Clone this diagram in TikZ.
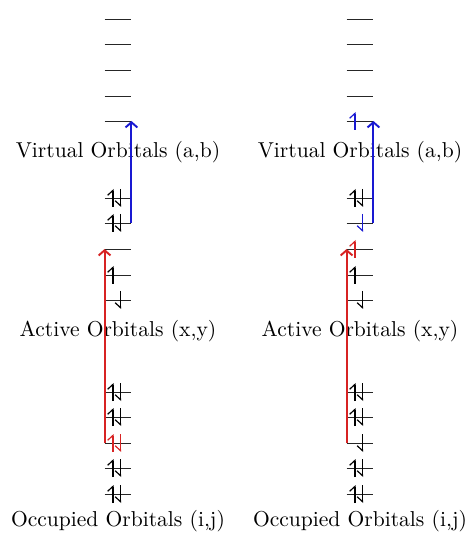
\documentclass[tikz,border=0pt]{standalone}
\usetikzlibrary{arrows.meta,calc}
\definecolor{exblue}{RGB}{25,25,210}
\definecolor{exred}{RGB}{215,35,35}
\newcommand\mklvl[3]{\node[lvl] (#1) at (#2,#3) {}; \draw[lvlline] (#1.west) -- (#1.east);}
\newcommand\elecup[2][black]{\draw[elec,#1,-{Straight Barb[left,length=2.3pt,width=5pt]}] ($(#2)+(-5,9)$) -- ($(#2)+(-5,-9)$);}
\newcommand\elecdn[2][black]{\draw[elec,#1,-{Straight Barb[right,length=2.3pt,width=5pt]}] ($(#2)+(2.5,-9)$) -- ($(#2)+(2.5,9)$);}
\newcommand\elecpair[2][black]{\elecup[#1]{#2}\elecdn[#1]{#2}}
\begin{document}
\begin{tikzpicture}[x={(0.464pt,0)},y={(0,-0.464pt)},
  lvl/.style={inner sep=0pt, minimum width=12.06pt, minimum height=0pt},
  lvlline/.style={line width=0.45pt, black!85},
  elec/.style={line width=0.55pt},
  exc/.style={line width=0.9pt, -{Straight Barb[length=2.4pt,width=5.5pt]}},
  lbl/.style={anchor=base, inner sep=0pt}]
\useasboundingbox (0,0) rectangle (467,535);
% ---------- left column ----------
\mklvl{Lv1}{118}{19}
\mklvl{Lv2}{118}{44}
\mklvl{Lv3}{118}{70}
\mklvl{Lv4}{118}{96}
\mklvl{Lv5}{118}{121}
\mklvl{Lv6}{118}{198}
\mklvl{Lv7}{118}{223}
\mklvl{La1}{118}{249}
\mklvl{La2}{118}{275}
\mklvl{La3}{118}{300}
\mklvl{Lo1}{118}{392}
\mklvl{Lo2}{118}{417}
\mklvl{Lo3}{118}{443}
\mklvl{Lo4}{118}{468}
\mklvl{Lo5}{118}{494}
\node[lbl] (LtV) at (118,158) {Virtual Orbitals (a,b)};
\node[lbl] (LtA) at (118,337) {Active Orbitals (x,y)};
\node[lbl] (LtO) at (118,526) {Occupied Orbitals (i,j)};
\elecpair{Lv6}
\elecpair{Lv7}
\elecup{La2}
\elecdn{La3}
\elecpair{Lo1}
\elecpair{Lo2}
\elecpair[exred]{Lo3}
\elecpair{Lo4}
\elecpair{Lo5}
\draw[exc,exblue] (Lv7.east) -- (Lv5.east);
\draw[exc,exred] (Lo3.west) -- (La1.west);
% ---------- right column ----------
\mklvl{Rv1}{360}{19}
\mklvl{Rv2}{360}{44}
\mklvl{Rv3}{360}{70}
\mklvl{Rv4}{360}{96}
\mklvl{Rv5}{360}{121}
\mklvl{Rv6}{360}{198}
\mklvl{Rv7}{360}{223}
\mklvl{Ra1}{360}{249}
\mklvl{Ra2}{360}{275}
\mklvl{Ra3}{360}{300}
\mklvl{Ro1}{360}{392}
\mklvl{Ro2}{360}{417}
\mklvl{Ro3}{360}{443}
\mklvl{Ro4}{360}{468}
\mklvl{Ro5}{360}{494}
\node[lbl] (RtV) at (360,158) {Virtual Orbitals (a,b)};
\node[lbl] (RtA) at (360,337) {Active Orbitals (x,y)};
\node[lbl] (RtO) at (360,526) {Occupied Orbitals (i,j)};
\elecup[exblue]{Rv5}
\elecpair{Rv6}
\elecdn[exblue]{Rv7}
\elecup[exred]{Ra1}
\elecup{Ra2}
\elecdn{Ra3}
\elecpair{Ro1}
\elecpair{Ro2}
\elecdn{Ro3}
\elecpair{Ro4}
\elecpair{Ro5}
\draw[exc,exblue] (Rv7.east) -- (Rv5.east);
\draw[exc,exred] (Ro3.west) -- (Ra1.west);
\end{tikzpicture}
\end{document}
